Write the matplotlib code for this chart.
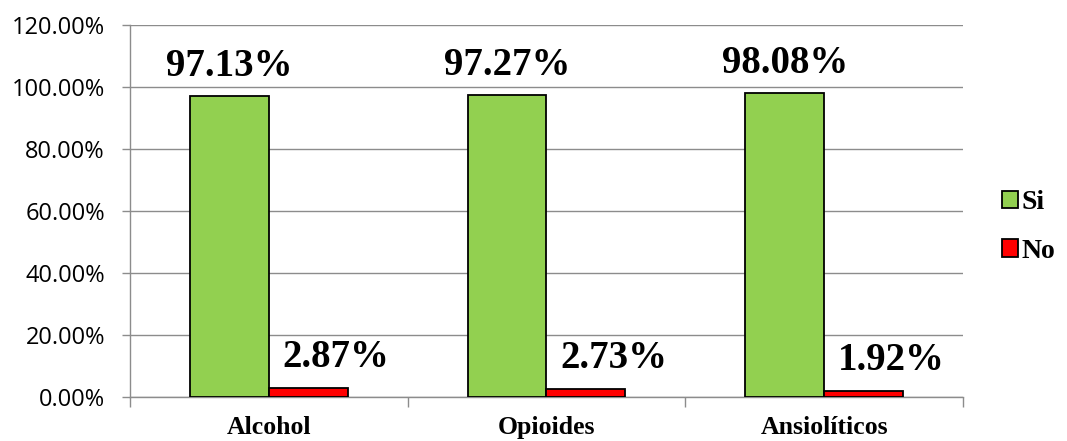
import matplotlib
matplotlib.use("Agg")
import matplotlib.pyplot as plt
import numpy as np
from matplotlib.patches import Patch
from matplotlib.ticker import FuncFormatter, FixedLocator

categories = ["Alcohol", "Opioides", "Ansiolíticos"]
si_values = [97.13, 97.27, 98.08]
no_values = [2.87, 2.73, 1.92]
series_names = ["Si", "No"]

green = "#92D050"
red = "#FF0000"
grid_gray = "#8C8C8C"

fig = plt.figure(figsize=(10.67, 4.41), dpi=100)
ax = fig.add_axes([0.1218, 0.0998, 0.7807, 0.8435])

x = np.arange(len(categories))
w = 0.284
ax.bar(x - w / 2, si_values, w, color=green, edgecolor="black", linewidth=1.3, zorder=3)
ax.bar(x + w / 2, no_values, w, color=red, edgecolor="black", linewidth=1.3, zorder=3)

ax.set_xlim(-0.5, len(categories) - 0.5)
ax.set_ylim(0, 120)
ax.set_yticks(np.arange(0, 121, 20))
ax.yaxis.set_major_formatter(FuncFormatter(lambda v, p: f"{v:.2f}%"))
ax.grid(axis="y", color=grid_gray, linewidth=1.0, zorder=0)

for s in ["top", "right"]:
    ax.spines[s].set_visible(False)
for s in ["left", "bottom"]:
    ax.spines[s].set_color(grid_gray)
    ax.spines[s].set_linewidth(1.0)

# category labels centred, tick marks at category boundaries
ax.set_xticks(x)
ax.set_xticklabels(categories, fontfamily="Liberation Serif", fontweight="bold", fontsize=18.5)
ax.tick_params(axis="x", length=0, pad=14)
ax.xaxis.set_minor_locator(FixedLocator(np.arange(-0.5, len(categories), 1.0)))
ax.tick_params(axis="x", which="minor", length=7, color=grid_gray, width=1.0)
ax.tick_params(axis="y", length=5.5, color=grid_gray, width=1.0, labelsize=17, pad=12.5)
for lab in ax.get_yticklabels():
    lab.set_fontfamily("Open Sans")

for xi, v in zip(x, si_values):
    ax.annotate(f"{v:.2f}%", (xi - w / 2, v), xytext=(0, 14.5), textcoords="offset points",
                ha="center", va="baseline", fontfamily="Liberation Serif",
                fontweight="bold", fontsize=28)
for xi, v in zip(x, no_values):
    ax.annotate(f"{v:.2f}%", (xi + w / 2, v), xytext=(20, 15), textcoords="offset points",
                ha="center", va="baseline", fontfamily="Liberation Serif",
                fontweight="bold", fontsize=28)

handles = [Patch(facecolor=green, edgecolor="black", linewidth=1.3),
           Patch(facecolor=red, edgecolor="black", linewidth=1.3)]
fig.legend(handles, series_names, loc="center left", bbox_to_anchor=(0.939, 0.485),
           frameon=False, handlelength=0.58, handleheight=0.58, handletextpad=0.12,
           labelspacing=0.85, borderpad=0, borderaxespad=0,
           prop={"family": "Liberation Serif", "weight": "bold", "size": 20})

fig.savefig("out.png", dpi=100)
